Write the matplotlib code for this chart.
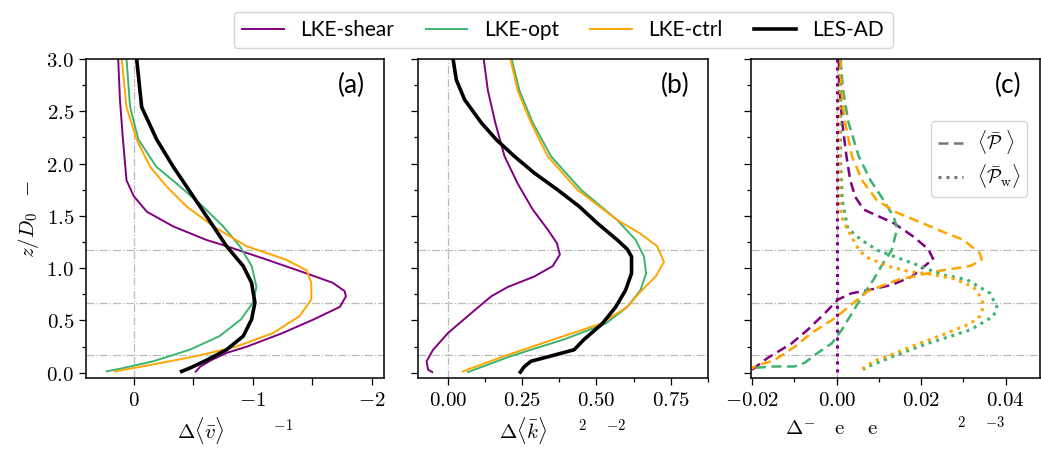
import numpy as np
import matplotlib
matplotlib.use("Agg")
import matplotlib.pyplot as plt
from matplotlib.ticker import MultipleLocator, FuncFormatter
from matplotlib.lines import Line2D

plt.rcParams['mathtext.fontset'] = 'cm'
plt.rcParams['font.family'] = ['Lato', 'DejaVu Sans']

## colours / names ##
names = ['LKE-shear', 'LKE-opt', 'LKE-ctrl', 'LES-AD']
colors = ['#800080', '#3cb371', '#ffa500', 'black']

## panel (a): delta <v> ##
za_shear = [3.0, 2.61, 2.23, 1.84, 1.69, 1.54, 1.40, 1.27, 1.21, 1.08, 0.95, 0.86, 0.78, 0.73, 0.63, 0.51, 0.38, 0.25, 0.19, 0.12, 0.06, 0.01]
va_shear = [0.13, 0.115, 0.09, 0.06, 0.0, -0.11, -0.33, -0.61, -0.78, -1.12, -1.45, -1.67, -1.77, -1.78, -1.73, -1.51, -1.25, -0.95, -0.78, -0.65, -0.56, -0.52]
za_opt = [3.0, 2.54, 2.23, 1.97, 1.78, 1.59, 1.40, 1.21, 1.02, 0.82, 0.67, 0.51, 0.35, 0.22, 0.11, 0.045, 0.013]
va_opt = [0.06, 0.03, -0.04, -0.19, -0.39, -0.58, -0.75, -0.89, -0.99, -1.03, -1.0, -0.9, -0.72, -0.47, -0.165, 0.087, 0.226]
za_ctrl = [3.0, 2.54, 2.23, 1.97, 1.78, 1.59, 1.40, 1.21, 1.08, 0.98, 0.86, 0.70, 0.54, 0.38, 0.25, 0.16, 0.08, 0.013]
va_ctrl = [0.10, 0.06, -0.025, -0.137, -0.277, -0.444, -0.668, -0.947, -1.28, -1.45, -1.49, -1.49, -1.39, -1.17, -0.86, -0.53, -0.165, 0.156]
za_les = [3.0, 2.54, 2.23, 1.97, 1.78, 1.59, 1.40, 1.21, 1.02, 0.86, 0.67, 0.51, 0.35, 0.22, 0.12, 0.045, 0.013]
va_les = [-0.025, -0.067, -0.193, -0.332, -0.444, -0.556, -0.668, -0.779, -0.919, -0.989, -1.017, -0.989, -0.919, -0.779, -0.612, -0.472, -0.402]

## panel (b): delta <k> ##
zb_shear = [3.0, 2.70, 2.39, 2.07, 1.81, 1.56, 1.37, 1.24, 1.13, 1.02, 0.92, 0.82, 0.73, 0.57, 0.38, 0.22, 0.11, 0.03, 0.006]
kb_shear = [0.121, 0.135, 0.160, 0.191, 0.235, 0.286, 0.336, 0.367, 0.377, 0.353, 0.291, 0.202, 0.146, 0.079, 0.001, -0.049, -0.071, -0.066, -0.052]
zb_opt = [3.0, 2.70, 2.39, 2.07, 1.75, 1.46, 1.27, 1.11, 0.95, 0.79, 0.63, 0.47, 0.32, 0.16, 0.006]
kb_opt = [0.215, 0.241, 0.286, 0.347, 0.448, 0.570, 0.632, 0.660, 0.667, 0.648, 0.604, 0.531, 0.392, 0.213, 0.068]
zb_ctrl = [3.0, 2.70, 2.39, 2.07, 1.75, 1.46, 1.33, 1.21, 1.06, 0.92, 0.76, 0.63, 0.47, 0.32, 0.16, 0.013]
kb_ctrl = [0.211, 0.235, 0.280, 0.336, 0.436, 0.570, 0.648, 0.704, 0.727, 0.699, 0.643, 0.604, 0.515, 0.358, 0.191, 0.051]
zb_les = [3.0, 2.80, 2.61, 2.39, 2.23, 2.07, 1.91, 1.75, 1.59, 1.43, 1.27, 1.18, 1.11, 0.95, 0.79, 0.63, 0.47, 0.32, 0.22, 0.16, 0.11, 0.06, 0.006]
kb_les = [0.018, 0.029, 0.057, 0.113, 0.163, 0.224, 0.291, 0.369, 0.442, 0.503, 0.570, 0.604, 0.618, 0.618, 0.598, 0.565, 0.520, 0.459, 0.425, 0.347, 0.280, 0.258, 0.244]

## panel (c): production terms, dashed = P, dotted = P_w ##
zc_shear = [3.0, 2.70, 2.39, 2.07, 1.84, 1.68, 1.56, 1.43, 1.30, 1.18, 1.08, 1.05, 0.92, 0.84, 0.79, 0.76, 0.70, 0.57, 0.41, 0.28, 0.14, 0.01]
pc_shear = [0.0005, 0.0007, 0.0013, 0.0023, 0.0032, 0.0044, 0.0064, 0.0135, 0.0182, 0.0217, 0.0229, 0.0217, 0.0178, 0.0130, 0.0075, 0.0035, 0.0003, -0.0028, -0.0069, -0.0107, -0.0164, -0.0207]
zc_opt = [3.0, 2.70, 2.39, 2.07, 1.84, 1.65, 1.49, 1.38, 1.17, 1.05, 0.89, 0.73, 0.57, 0.41, 0.28, 0.19, 0.095, 0.06, 0.06, 0.045]
pc_opt = [0.0009, 0.0015, 0.0028, 0.0052, 0.0080, 0.0111, 0.0135, 0.0143, 0.0130, 0.0110, 0.0087, 0.0060, 0.0036, 0.0012, -0.0012, -0.0045, -0.0076, -0.0100, -0.0148, -0.0203]
zc_ctrl = [3.0, 2.70, 2.39, 2.07, 1.84, 1.65, 1.53, 1.40, 1.34, 1.27, 1.14, 1.08, 1.02, 0.98, 0.89, 0.78, 0.60, 0.52, 0.38, 0.25, 0.12, 0.06, 0.03]
pc_ctrl = [0.0009, 0.0011, 0.0020, 0.0036, 0.0060, 0.0095, 0.0143, 0.0221, 0.0256, 0.0300, 0.0339, 0.0343, 0.0316, 0.0250, 0.0145, 0.0074, 0.0019, -0.0005, -0.0060, -0.0099, -0.0148, -0.0195, -0.0204]

zw_shear = [3.0, 1.5, 0.0]
pw_shear = [0.0, 0.0, 0.0]
zw_opt = [3.0, 2.5, 2.0, 1.65, 1.38, 1.27, 1.17, 1.10, 1.03, 0.94, 0.89, 0.76, 0.63, 0.54, 0.41, 0.35, 0.28, 0.16, 0.06, 0.03]
pw_opt = [0.0009, 0.0009, 0.0009, 0.0013, 0.0026, 0.0058, 0.0097, 0.0144, 0.0191, 0.0247, 0.0308, 0.0363, 0.0379, 0.0371, 0.0316, 0.0270, 0.0215, 0.0135, 0.0075, 0.0062]
zw_ctrl = [3.0, 2.5, 2.0, 1.60, 1.45, 1.30, 1.16, 1.10, 1.02, 0.97, 0.94, 0.90, 0.82, 0.71, 0.63, 0.54, 0.47, 0.38, 0.28, 0.16, 0.11, 0.02]
pw_ctrl = [0.0006, 0.0006, 0.0006, 0.0007, 0.0015, 0.0035, 0.0055, 0.0074, 0.0120, 0.0169, 0.0225, 0.0276, 0.0324, 0.0343, 0.0347, 0.0339, 0.0316, 0.0261, 0.0195, 0.0121, 0.0087, 0.0055]

hlines = [1.17, 0.67, 0.17]


def mfmt(fmt):
    def f(v, pos):
        if abs(v) < 1e-12:
            v = 0.0
        return '$' + format(v, fmt) + '$'
    return FuncFormatter(f)


fig = plt.figure(figsize=(10.41, 4.51), dpi=100)
ax_a = fig.add_axes([0.0826, 0.1619, 0.2863, 0.7073])
ax_b = fig.add_axes([0.4015, 0.1619, 0.2786, 0.7073])
ax_c = fig.add_axes([0.7214, 0.1619, 0.2776, 0.7073])

for ax in [ax_a, ax_b, ax_c]:
    for h in hlines:
        ax.axhline(h, color='#bbbbbb', lw=0.9, ls='-.', zorder=0)
    ax.axvline(0, color='#bbbbbb', lw=0.9, ls='-.', zorder=0)
    ax.set_ylim(-0.05, 3.0)
    ax.yaxis.set_major_locator(MultipleLocator(0.5))
    ax.yaxis.set_minor_locator(MultipleLocator(0.25))
    ax.tick_params(which='major', length=5, width=0.9, labelsize=15)
    ax.tick_params(which='minor', length=3, width=0.9)
    for s in ax.spines.values():
        s.set_linewidth(1.1)

## (a) ##
za = [za_shear, za_opt, za_ctrl, za_les]
va = [va_shear, va_opt, va_ctrl, va_les]
handles = []
for i in range(4):
    lw = 2.6 if i == 3 else 1.4
    l, = ax_a.plot(va[i], za[i], color=colors[i], lw=lw, label=names[i])
    handles.append(l)
ax_a.set_xlim(0.4, -2.1)
ax_a.xaxis.set_major_locator(MultipleLocator(1))
ax_a.xaxis.set_minor_locator(MultipleLocator(0.5))
ax_a.tick_params(axis='x', which='minor', length=5)
ax_a.xaxis.set_major_formatter(mfmt('.0f'))
ax_a.yaxis.set_major_formatter(mfmt('.1f'))
ax_a.set_xlabel(r'$\Delta\langle\bar{v}\rangle\qquad\ \ {}^{-1}$', fontsize=15)
ax_a.set_ylabel(r'$z/D_0\ \ -$', fontsize=15)
ax_a.text(0.935, 0.955, '(a)', transform=ax_a.transAxes, ha='right', va='top', fontsize=19)

## (b) ##
zb = [zb_shear, zb_opt, zb_ctrl, zb_les]
kb = [kb_shear, kb_opt, kb_ctrl, kb_les]
for i in range(4):
    lw = 2.6 if i == 3 else 1.4
    ax_b.plot(kb[i], zb[i], color=colors[i], lw=lw)
ax_b.set_xlim(-0.1, 0.875)
ax_b.xaxis.set_major_locator(MultipleLocator(0.25))
ax_b.xaxis.set_minor_locator(MultipleLocator(0.125))
ax_b.xaxis.set_major_formatter(mfmt('.2f'))
ax_b.set_yticklabels([])
ax_b.set_xlabel(r'$\Delta\langle\bar{k}\rangle\quad\ \ {}^{2}\quad{}^{-2}$', fontsize=15)
ax_b.text(0.935, 0.955, '(b)', transform=ax_b.transAxes, ha='right', va='top', fontsize=19)

## (c) ##
zc = [zc_shear, zc_opt, zc_ctrl]
pc = [pc_shear, pc_opt, pc_ctrl]
zw = [zw_shear, zw_opt, zw_ctrl]
pw = [pw_shear, pw_opt, pw_ctrl]
for i in range(3):
    ax_c.plot(pc[i], zc[i], color=colors[i], lw=1.8, ls=(0, (4, 2.2)))
for i in [1, 2, 0]:
    ax_c.plot(pw[i], zw[i], color=colors[i], lw=2.2, ls=(0, (1, 1.6)))
ax_c.set_xlim(-0.0203, 0.0481)
ax_c.xaxis.set_major_locator(MultipleLocator(0.02))
ax_c.xaxis.set_minor_locator(MultipleLocator(0.01))
ax_c.xaxis.set_major_formatter(mfmt('.2f'))
ax_c.set_yticklabels([])
ax_c.set_xlabel(r'$\Delta^{-}\quad\mathrm{e}\quad\ \mathrm{e}\qquad\qquad\ {}^{2}\quad{}^{-3}$', fontsize=15)
ax_c.text(0.935, 0.955, '(c)', transform=ax_c.transAxes, ha='right', va='top', fontsize=19)
leg_c = ax_c.legend(handles=[Line2D([], [], color='#777777', lw=1.8, ls=(0, (4, 2.2))),
                             Line2D([], [], color='#777777', lw=2.2, ls=(0, (1, 1.6)))],
                    labels=[r'$\langle\bar{\mathcal{P}}\ \rangle$', r'$\langle\bar{\mathcal{P}}_\mathrm{w}\rangle$'],
                    loc='upper right', bbox_to_anchor=(0.99, 0.835), fontsize=14,
                    handlelength=1.3, borderpad=0.35, labelspacing=0.3, handletextpad=0.7)

## figure legend ##
fig.legend(handles=handles, loc='upper center', bbox_to_anchor=(0.541, 0.997), ncol=4,
           fontsize=15, handlelength=2.0, columnspacing=1.5, borderpad=0.4)

fig.savefig('out.png', dpi=100)
